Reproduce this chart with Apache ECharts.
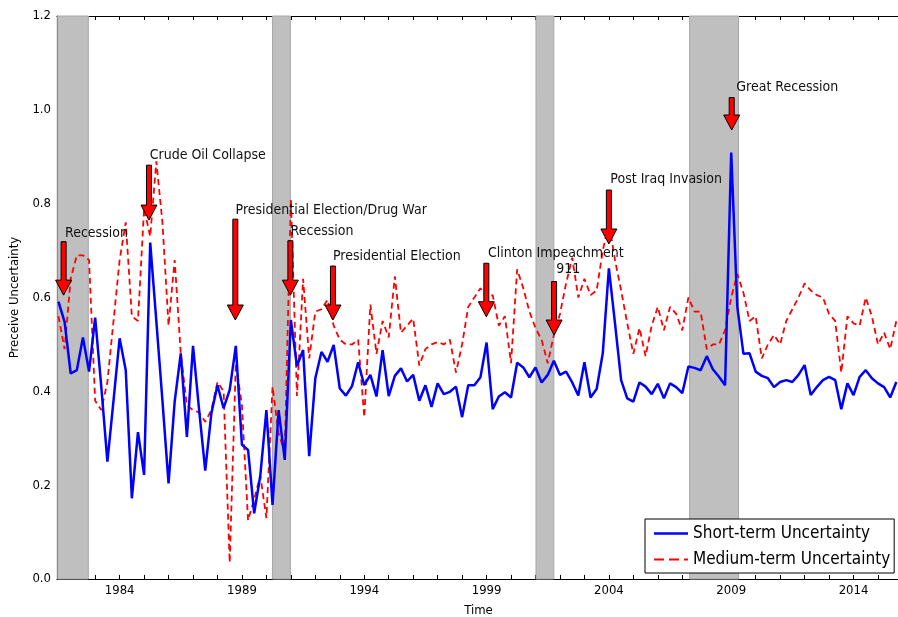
<!DOCTYPE html>
<html>
<head>
<meta charset="utf-8">
<script src="https://cdn.jsdelivr.net/npm/echarts@6/dist/echarts.min.js"></script>
<style>
html,body{margin:0;padding:0;background:#fff;}
#chart{width:898px;height:617px;}
</style>
</head>
<body>
<div id="chart"></div>
<script>
// ---- data ----
const startYear = 1981.5; // first quarter plotted
const shortTerm = [0.591,0.548,0.438,0.445,0.515,0.442,0.557,0.41,0.25,0.38,
0.513,0.445,0.172,0.313,0.222,0.717,0.55,0.38,0.204,0.378,
0.481,0.303,0.497,0.36,0.231,0.353,0.413,0.364,0.403,0.497,
0.286,0.275,0.14,0.22,0.36,0.158,0.36,0.254,0.552,0.454,
0.488,0.262,0.428,0.484,0.463,0.499,0.406,0.391,0.411,0.462,
0.413,0.435,0.389,0.488,0.39,0.433,0.449,0.421,0.435,0.38,
0.413,0.367,0.417,0.394,0.399,0.41,0.345,0.413,0.413,0.43,
0.504,0.362,0.389,0.398,0.387,0.461,0.451,0.43,0.451,0.419,
0.435,0.465,0.435,0.442,0.419,0.391,0.462,0.387,0.405,0.481,
0.662,0.545,0.424,0.385,0.378,0.419,0.41,0.394,0.416,0.385,
0.417,0.409,0.396,0.453,0.45,0.445,0.475,0.447,0.431,0.413,
0.909,0.58,0.48,0.481,0.442,0.433,0.428,0.409,0.42,0.424,
0.42,0.435,0.456,0.392,0.409,0.424,0.431,0.424,0.362,0.417,
0.392,0.431,0.445,0.428,0.417,0.409,0.387,0.42];
const mediumTerm = [0.56,0.49,0.64,0.69,0.69,0.68,0.38,0.36,0.42,0.55,
0.68,0.76,0.56,0.55,0.79,0.73,0.89,0.76,0.54,0.68,
0.48,0.37,0.36,0.355,0.335,0.36,0.42,0.40,0.035,0.46,
0.37,0.125,0.17,0.22,0.13,0.41,0.31,0.27,0.81,0.39,
0.64,0.47,0.57,0.575,0.595,0.54,0.51,0.50,0.50,0.51,
0.345,0.585,0.48,0.55,0.515,0.645,0.525,0.54,0.555,0.455,
0.49,0.50,0.505,0.50,0.51,0.44,0.50,0.58,0.60,0.62,
0.60,0.605,0.54,0.56,0.46,0.66,0.62,0.57,0.535,0.51,
0.46,0.52,0.565,0.63,0.685,0.60,0.64,0.605,0.615,0.70,
0.76,0.68,0.615,0.545,0.48,0.535,0.475,0.54,0.58,0.53,
0.58,0.565,0.53,0.60,0.57,0.57,0.49,0.50,0.50,0.53,
0.60,0.65,0.61,0.55,0.56,0.47,0.50,0.52,0.50,0.55,
0.575,0.60,0.63,0.615,0.605,0.60,0.565,0.55,0.44,0.56,
0.545,0.54,0.60,0.56,0.50,0.525,0.49,0.55];
const recessionStart = [1981.47, 1990.25, 2001.02, 2007.3];
const recessionEnd   = [1982.72, 1990.98, 2001.75, 2009.3];
const xLabelYears = [1984, 1989, 1994, 1999, 2004, 2009, 2014];
const xTickYears = [1982,1983,1984,1985,1986,1987,1988,1989,1990,1991,1992,1993,1994,1995,1996,1997,1998,1999,2000,2001,2002,2003,2004,2005,2006,2007,2008,2009,2010,2011,2012,2013,2014,2015];
const annotLabels = ["Recession","Crude Oil Collapse","Presidential Election/Drug War","Recession","Presidential Election","Clinton Impeachment","911","Post Iraq Invasion","Great Recession"];
const annotX    = [1981.71, 1985.20, 1988.73, 1990.98, 1992.72, 1998.99, 2001.76, 2004.00, 2009.02];
const annotTip  = [0.605, 0.765, 0.552, 0.605, 0.552, 0.559, 0.520, 0.714, 0.957];
const annotTail = [0.719, 0.882, 0.767, 0.721, 0.667, 0.673, 0.634, 0.829, 1.026];
const annotTextX = [1981.77, 1985.23, 1988.74, 1990.99, 1992.72, 1999.06, 2001.85, 2004.06, 2009.21];
const annotTextY = [0.736, 0.902, 0.786, 0.740, 0.688, 0.695, 0.659, 0.852, 1.048];

// ---- build ----
const FONT = '"DejaVu Sans Condensed", "DejaVu Sans", sans-serif';
const quarterDates = shortTerm.map((_, i) => startYear + i * 0.25);
const shortData = shortTerm.map((v, i) => [quarterDates[i], v]);
const mediumData = mediumTerm.map((v, i) => [quarterDates[i], v]);
const bands = recessionStart.map((s, i) => [{xAxis: s}, {xAxis: recessionEnd[i]}]);
const annotData = annotLabels.map((l, i) => [annotX[i], annotTip[i], annotTail[i], annotTextX[i], annotTextY[i]]);

const X_MIN = 1981.44, X_MAX = 2015.9;

const chart = echarts.init(document.getElementById('chart'), null, {renderer: 'canvas'});
chart.setOption({
  animation: false,
  backgroundColor: '#fff',
  grid: {left: 57, right: -2, top: 16, bottom: 38, containLabel: false, outerBoundsMode: 'none'},
  legend: {
    orient: 'vertical', left: 645, top: 519,
    backgroundColor: '#fff', borderColor: '#000', borderWidth: 1, borderRadius: 0,
    padding: [6, 4, 5, 9], itemGap: 9, itemWidth: 34, itemHeight: 14,
    symbolKeepAspect: true,
    textStyle: {fontSize: 17, fontFamily: FONT, color: '#000', lineHeight: 14},
    data: [
      {name: 'Short-term Uncertainty', icon: 'path://M0,0h34v2.6h-34z'},
      {name: 'Medium-term Uncertainty', icon: 'path://M0,0h10v2h-10z M15,0h10v2h-10z M30,0h4v2h-4z'}
    ]
  },
  xAxis: [{
    type: 'value', min: X_MIN, max: X_MAX, position: 'bottom',
    name: 'Time', nameLocation: 'middle', nameGap: 25,
    nameTextStyle: {fontSize: 13, fontFamily: FONT, color: '#000'},
    axisLine: {show: true, onZero: false, lineStyle: {color: '#000', width: 1.2}},
    axisTick: {show: true, inside: true, length: 4, lineStyle: {color: '#000'}, customValues: xTickYears},
    axisLabel: {show: true, fontSize: 13, fontFamily: FONT, color: '#000', margin: 5, customValues: xLabelYears,
      formatter: v => String(Math.round(v))},
    splitLine: {show: false}
  }, {
    type: 'value', min: X_MIN, max: X_MAX, position: 'top',
    axisLine: {show: true, onZero: false, lineStyle: {color: '#000', width: 1.2}},
    axisTick: {show: true, inside: true, length: 4, lineStyle: {color: '#000'}, customValues: xTickYears},
    axisLabel: {show: false},
    splitLine: {show: false}
  }],
  yAxis: {
    type: 'value', min: 0, max: 1.2, interval: 0.2,
    name: 'Preceive Uncertainty', nameLocation: 'middle', nameGap: 34,
    nameTextStyle: {fontSize: 13, fontFamily: FONT, color: '#000'},
    axisLine: {show: true, onZero: false, lineStyle: {color: '#000', width: 1.2}},
    axisTick: {show: true, inside: true, length: 4, lineStyle: {color: '#000'}},
    axisLabel: {fontSize: 13, fontFamily: FONT, color: '#000', margin: 6, formatter: v => v.toFixed(1)},
    splitLine: {show: false}
  },
  series: [{
    name: 'bands', type: 'line', data: [], z: 1, silent: true,
    markArea: {silent: true, itemStyle: {color: '#bfbfbf', borderColor: '#a8a8a8', borderWidth: 1}, data: bands}
  }, {
    name: 'Short-term Uncertainty', type: 'line', data: shortData, z: 3,
    symbol: 'none', lineStyle: {color: '#0000ff', width: 2.5}, itemStyle: {color: '#0000ff'}
  }, {
    name: 'Medium-term Uncertainty', type: 'line', data: mediumData, z: 2,
    symbol: 'none', lineStyle: {color: '#ff0000', width: 1.8, type: [6, 4]}, itemStyle: {color: '#ff0000'}
  }, {
    name: 'annotations', type: 'custom', data: annotData, z: 5, silent: true, clip: false,
    encode: {x: 0, y: 1},
    renderItem: function (params, api) {
      const tip = api.coord([api.value(0), api.value(1)]);
      const tail = api.coord([api.value(0), api.value(2)]);
      const txt = api.coord([api.value(3), api.value(4)]);
      const px = tip[0], py = tip[1], ty = tail[1];
      const hb = py - 15, sw = 2.5, hw = 8;
      return {
        type: 'group',
        children: [{
          type: 'polygon',
          shape: {points: [[px - sw, ty], [px + sw, ty], [px + sw, hb], [px + hw, hb], [px, py], [px - hw, hb], [px - sw, hb]]},
          style: {fill: '#ff0000', stroke: '#000', lineWidth: 1}
        }, {
          type: 'text',
          style: {text: annotLabels[params.dataIndex], x: txt[0], y: txt[1], fill: '#111',
            fontSize: 14, fontFamily: FONT, align: 'left', verticalAlign: 'middle'}
        }]
      };
    }
  }]
});
</script>
</body>
</html>
